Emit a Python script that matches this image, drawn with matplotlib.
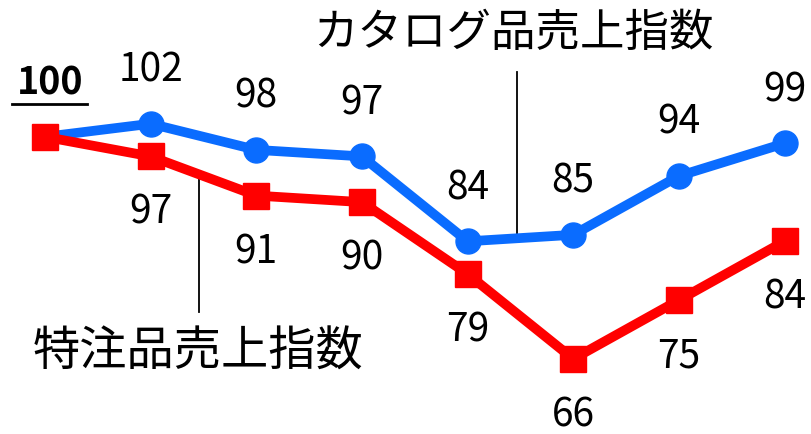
import matplotlib
matplotlib.use("Agg")
import matplotlib.pyplot as plt
import numpy as np

plt.rcParams['font.family'] = ['Noto Sans CJK JP', 'DejaVu Sans']

# données
catalog = [100, 102, 98, 97, 84, 85, 94, 99]   # カタログ品売上指数
custom = [100, 97, 91, 90, 79, 66, 75, 84]     # 特注品売上指数
catalog_name = "カタログ品売上指数"
custom_name = "特注品売上指数"

x = np.arange(len(catalog))
blue = '#0A6CFF'
red = '#FF0000'

fig = plt.figure(figsize=(8.12, 4.35), dpi=100)
ax = fig.add_axes([0, 0, 1, 1])
ax.set_xlim(-0.426, 7.26)
ax.set_ylim(54.5, 121.1)
ax.axis('off')

ax.plot(x, catalog, color=blue, lw=7, marker='o', ms=18, zorder=2)
ax.plot(x, custom, color=red, lw=7, marker='s', ms=19, zorder=3)

# étiquettes
for i in range(1, len(x)):
    ax.annotate(str(catalog[i]), (x[i], catalog[i]), xytext=(0, 39),
                textcoords='offset points', ha='center', va='center', fontsize=28)
    ax.annotate(str(custom[i]), (x[i], custom[i]), xytext=(0, -40),
                textcoords='offset points', ha='center', va='center', fontsize=28)

# 100 souligné
ax.text(0.047, 108.4, str(catalog[0]), ha='center', va='center', fontsize=27, fontweight='bold')
ax.plot([-0.31, 0.4], [105, 105], color='black', lw=2)

# légendes avec traits
ax.plot([4.47, 4.47], [84.6, 110.0], color='black', lw=1.3, zorder=1)
ax.text(4.437, 116.1, catalog_name, ha='center', va='center', fontsize=32)
ax.plot([1.457, 1.457], [94.0, 73.2], color='black', lw=1.3, zorder=1)
ax.text(1.447, 67.1, custom_name, ha='center', va='center', fontsize=34)

fig.savefig('out.png', dpi=100)
